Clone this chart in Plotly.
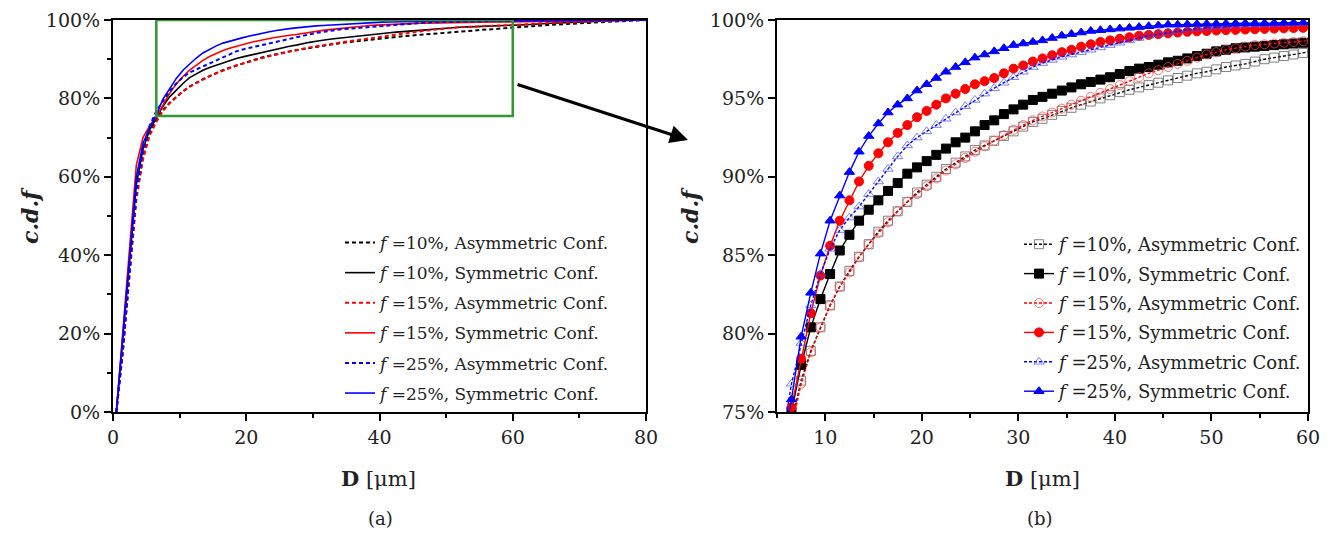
import plotly.graph_objects as go

# ---------------- data ----------------
D = [0.5, 1.5, 2.5, 3.5, 4.5, 5.5, 6.5, 7.5, 8.5, 9.5,
     10.5, 11.5, 12.5, 13.5, 14.5, 15.5, 16.5, 17.5, 18.5, 19.5,
     20.5, 21.5, 22.5, 23.5, 24.5, 25.5, 26.5, 27.5, 28.5, 29.5,
     30.5, 31.5, 32.5, 33.5, 34.5, 35.5, 36.5, 37.5, 38.5, 39.5,
     40.5, 41.5, 42.5, 43.5, 44.5, 45.5, 46.5, 47.5, 48.5, 49.5,
     50.5, 51.5, 52.5, 53.5, 54.5, 55.5, 56.5, 57.5, 58.5, 59.5,
     62, 65, 70, 75, 80]

cdf_f10_asym = [0, 16, 36, 55, 65, 71, 74.3, 77.0, 78.9, 80.4,
                81.8, 83.0, 84.0, 84.9, 85.7, 86.5, 87.2, 87.8, 88.4, 89.0,
                89.5, 90.0, 90.5, 90.9, 91.3, 91.7, 92.0, 92.3, 92.6, 92.9,
                93.2, 93.5, 93.7, 93.95, 94.2, 94.4, 94.6, 94.8, 95.0, 95.2,
                95.4, 95.55, 95.7, 95.85, 96.0, 96.15, 96.3, 96.45, 96.6, 96.7,
                96.85, 97.0, 97.1, 97.2, 97.35, 97.5, 97.6, 97.7, 97.8, 97.9,
                98.3, 98.7, 99.2, 99.6, 100]

cdf_f10_sym = [0, 19, 39, 58, 67, 72, 75.0, 78.0, 80.4, 82.2,
               83.8, 85.3, 86.3, 87.2, 87.9, 88.5, 89.1, 89.6, 90.2, 90.6,
               91.0, 91.4, 91.8, 92.2, 92.5, 92.9, 93.3, 93.6, 94.0, 94.3,
               94.6, 94.9, 95.1, 95.3, 95.5, 95.7, 95.9, 96.05, 96.2, 96.35,
               96.55, 96.75, 96.9, 97.0, 97.15, 97.3, 97.4, 97.55, 97.7, 97.85,
               98.0, 98.1, 98.2, 98.25, 98.3, 98.35, 98.4, 98.45, 98.5, 98.55,
               98.8, 99.1, 99.5, 99.8, 100]

cdf_f15_asym = [0, 16, 35, 54, 64.5, 70.5, 74.0, 76.8, 78.8, 80.4,
                81.8, 83.0, 83.9, 84.9, 85.7, 86.4, 87.1, 87.8, 88.4, 88.9,
                89.4, 89.9, 90.4, 90.8, 91.2, 91.6, 91.95, 92.3, 92.65, 93.0,
                93.3, 93.6, 93.85, 94.1, 94.35, 94.6, 94.85, 95.1, 95.35, 95.6,
                95.85, 96.1, 96.35, 96.6, 96.8, 97.0, 97.2, 97.4, 97.6, 97.8,
                97.95, 98.1, 98.2, 98.3, 98.4, 98.45, 98.5, 98.55, 98.6, 98.65,
                98.9, 99.2, 99.6, 99.85, 100]

cdf_f15_sym = [0, 21, 43, 63, 70, 73, 75.3, 78.4, 81.3, 83.7,
               85.6, 87.2, 88.5, 89.7, 90.7, 91.5, 92.2, 92.8, 93.3, 93.8,
               94.2, 94.6, 95.0, 95.3, 95.6, 95.9, 96.1, 96.3, 96.6, 96.9,
               97.1, 97.35, 97.55, 97.75, 97.95, 98.1, 98.3, 98.45, 98.6, 98.7,
               98.8, 98.9, 99.0, 99.05, 99.1, 99.15, 99.2, 99.25, 99.28, 99.3,
               99.33, 99.35, 99.37, 99.39, 99.41, 99.43, 99.45, 99.47, 99.49, 99.5,
               99.6, 99.7, 99.85, 99.95, 100]

cdf_f25_asym = [0, 16, 36, 56, 67, 73, 76.8, 79.4, 81.8, 83.8,
                85.4, 86.6, 87.4, 88.1, 88.9, 89.7, 90.5, 91.3, 92.0, 92.5,
                92.9, 93.3, 93.7, 94.1, 94.5, 94.9, 95.3, 95.65, 96.0, 96.35,
                96.7, 97.0, 97.25, 97.45, 97.65, 97.8, 97.95, 98.1, 98.25, 98.4,
                98.55, 98.7, 98.85, 99.0, 99.1, 99.2, 99.3, 99.38, 99.45, 99.5,
                99.55, 99.6, 99.63, 99.66, 99.69, 99.72, 99.74, 99.76, 99.78, 99.8,
                99.85, 99.9, 99.95, 99.98, 100]

cdf_f25_sym = [0, 19, 40, 60, 68.5, 72.5, 75.8, 79.8, 82.6, 85.1,
               87.2, 88.8, 90.3, 91.6, 92.6, 93.4, 94.1, 94.6, 95.0, 95.5,
               95.9, 96.3, 96.7, 97.0, 97.3, 97.6, 97.8, 98.0, 98.2, 98.4,
               98.5, 98.6, 98.7, 98.85, 99.0, 99.1, 99.2, 99.3, 99.35, 99.4,
               99.45, 99.5, 99.55, 99.6, 99.65, 99.7, 99.7, 99.72, 99.74, 99.75,
               99.76, 99.77, 99.78, 99.79, 99.8, 99.8, 99.81, 99.82, 99.83, 99.84,
               99.87, 99.9, 99.95, 99.98, 100]

series_names = ["<i>f</i> =10%, Asymmetric Conf.", "<i>f</i> =10%, Symmetric Conf.",
                "<i>f</i> =15%, Asymmetric Conf.", "<i>f</i> =15%, Symmetric Conf.",
                "<i>f</i> =25%, Asymmetric Conf.", "<i>f</i> =25%, Symmetric Conf."]
series_values = [cdf_f10_asym, cdf_f10_sym, cdf_f15_asym, cdf_f15_sym, cdf_f25_asym, cdf_f25_sym]

# zoom window shown in panel (b)
zoom_x = [6.5, 60]
zoom_y = [75.5, 100]

left_xticks = [0, 20, 40, 60, 80]
left_yticks = [0, 20, 40, 60, 80, 100]
left_yticklabels = ["0%", "20%", "40%", "60%", "80%", "100%"]
right_xticks = [10, 20, 30, 40, 50, 60]
right_yticks = [75, 80, 85, 90, 95, 100]
right_yticklabels = ["75%", "80%", "85%", "90%", "95%", "100%"]

# ---------------- styles / layout helpers ----------------
colors = ["#000000", "#000000", "#ff0000", "#ff0000", "#0000ff", "#0000ff"]
marker_colors = ["rgba(90,90,90,0.75)", "#000000", "rgba(255,70,70,0.75)", "#ff0000",
                 "rgba(70,70,255,0.7)", "#0000ff"]
dashes = ["4px,3px", "solid", "4px,3px", "solid", "4px,3px", "solid"]
symbols = ["square-open", "square", "circle-open", "circle", "triangle-up-open", "triangle-up"]
FONT = "DejaVu Serif"
OFF = 8                      # page body margin
W, H = 1339 - OFF, 538 - OFF


def px(x):
    return (x - OFF) / W


def py(y):
    return 1 - (y - OFF) / H


fig = go.Figure()

for i, (nm, vals) in enumerate(zip(series_names, series_values)):
    fig.add_trace(go.Scatter(
        x=D, y=vals, mode="lines", name=nm, xaxis="x", yaxis="y",
        line=dict(color=colors[i], width=2 if dashes[i] != "solid" else 1.6, dash=dashes[i]),
        legend="legend", legendgroup="a%d" % i))

for i, (nm, vals) in enumerate(zip(series_names, series_values)):
    fig.add_trace(go.Scatter(
        x=D, y=vals, mode="lines+markers", name=nm, xaxis="x2", yaxis="y2",
        line=dict(color=colors[i], width=1.4, dash="3px,2px" if dashes[i] != "solid" else "solid"),
        marker=dict(symbol=symbols[i], size=9, color=marker_colors[i],
                    line=dict(width=1, color=marker_colors[i])),
        legend="legend2", legendgroup="b%d" % i))

axis_common = dict(showline=True, linecolor="black", linewidth=2, mirror=True,
                   ticks="outside", tickwidth=2, ticklen=7, tickcolor="black",
                   showgrid=False, zeroline=False, automargin=False,
                   tickfont=dict(family=FONT, size=19, color="#222"))
minor_common = dict(ticks="outside", ticklen=4, tickwidth=1.5, tickcolor="black")

fig.update_layout(
    width=W, height=H,
    margin=dict(l=0, r=0, t=0, b=0, autoexpand=False),
    paper_bgcolor="white", plot_bgcolor="white",
    showlegend=True,
    xaxis=dict(domain=[px(113), px(646)], range=[0, 80], tickmode="array", tickvals=left_xticks,
               minor=dict(dtick=10, **minor_common), anchor="y", **axis_common),
    yaxis=dict(domain=[py(412), py(20)], range=[0, 100], tickmode="array",
               tickvals=left_yticks, ticktext=left_yticklabels,
               minor=dict(dtick=10, **minor_common), anchor="x", **axis_common),
    xaxis2=dict(domain=[px(777), px(1308)], range=[5, 60], tickmode="array", tickvals=right_xticks,
                minor=dict(dtick=5, tick0=5, **minor_common), anchor="y2", **axis_common),
    yaxis2=dict(domain=[py(412), py(20)], range=[75, 100], tickmode="array",
                tickvals=right_yticks, ticktext=right_yticklabels,
                anchor="x2", **axis_common),
    legend=dict(x=px(616), xanchor="right", y=py(411), yanchor="bottom",
                bgcolor="rgba(0,0,0,0)", font=dict(family=FONT, size=17, color="#222"),
                tracegroupgap=5, itemwidth=30, traceorder="grouped"),
    legend2=dict(x=px(1308), xanchor="right", y=py(410), yanchor="bottom",
                 bgcolor="rgba(0,0,0,0)", font=dict(family=FONT, size=18, color="#222"),
                 tracegroupgap=3, itemwidth=30, traceorder="grouped"),
)

# zoom rectangle
fig.add_shape(type="rect", xref="x", yref="y", x0=zoom_x[0], x1=zoom_x[1], y0=zoom_y[0], y1=zoom_y[1],
              line=dict(color="#2f9a2f", width=2.5))

ann_font = dict(family=FONT, color="#222")
annotations = [
    dict(text="<b><i>c.d.f</i></b>", x=px(30), y=py(216), textangle=-90, font=dict(size=22, **ann_font)),
    dict(text="<b><i>c.d.f</i></b>", x=px(690), y=py(216), textangle=-90, font=dict(size=22, **ann_font)),
    dict(text="<b>D</b> [μm]", x=px(379), y=py(478), font=dict(size=21, **ann_font)),
    dict(text="<b>D</b> [μm]", x=px(1042), y=py(478), font=dict(size=21, **ann_font)),
    dict(text="(a)", x=px(380), y=py(518), font=dict(size=18, **ann_font)),
    dict(text="(b)", x=px(1040), y=py(518), font=dict(size=18, **ann_font)),
]
for a in annotations:
    fig.add_annotation(xref="paper", yref="paper", showarrow=False, xanchor="center", yanchor="middle", **a)

# arrow from zoom box to panel (b)
fig.add_annotation(xref="paper", yref="paper", x=px(688), y=py(140),
                   ax=-172, ay=-56, showarrow=True, arrowhead=2, arrowsize=1.2,
                   arrowwidth=3, arrowcolor="black", text="")

fig.write_html("out.html")
